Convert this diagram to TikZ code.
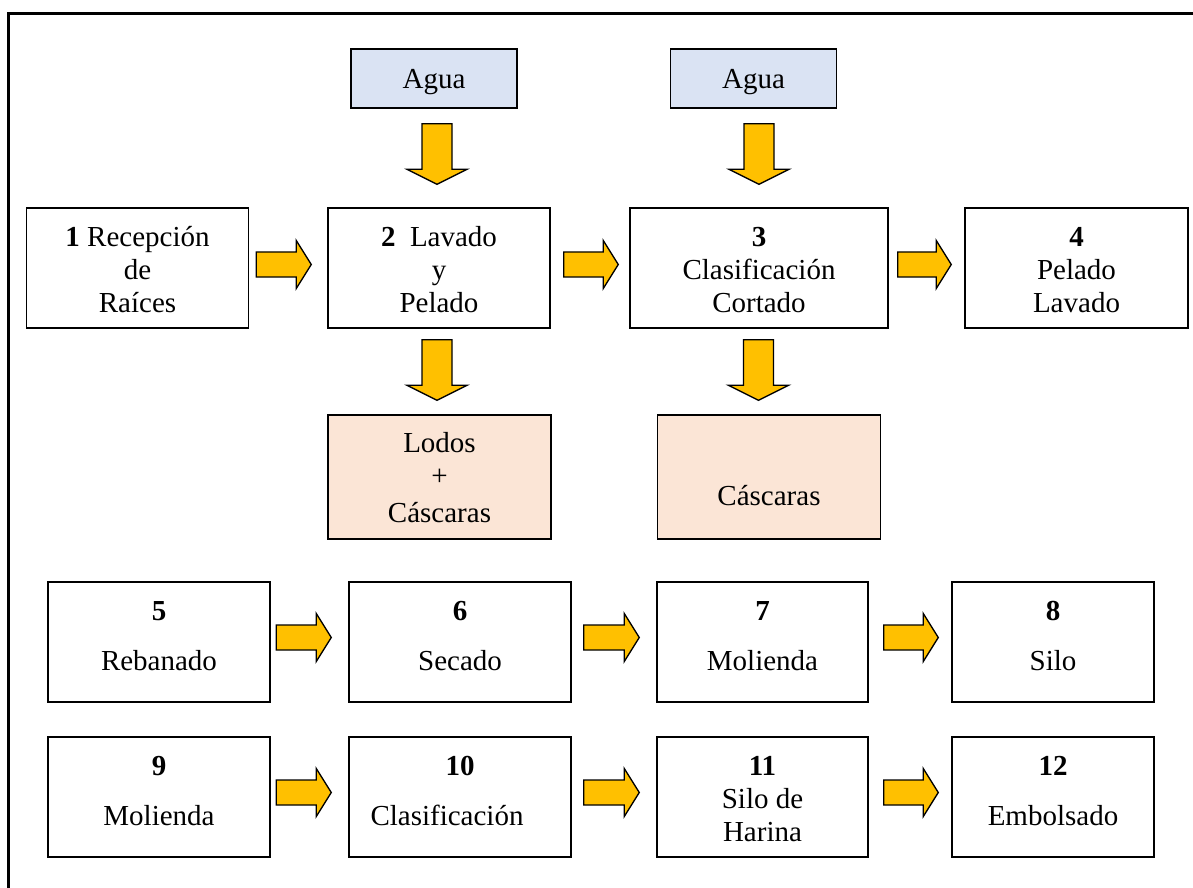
\documentclass[tikz,border=0pt]{standalone}
\usepackage{fontspec}
\setmainfont{Liberation Serif}
\usetikzlibrary{calc}

\definecolor{aguafill}{HTML}{DAE3F3}
\definecolor{residuofill}{HTML}{FBE5D6}
\definecolor{flechafill}{HTML}{FFC000}

\tikzset{
  proceso/.style={draw, line width=1.1pt, minimum width=166.5pt, minimum height=90pt, align=center, inner sep=0pt, font=\fontsize{21.75}{24.75}\selectfont},
  dos/.style={text depth=9pt},
  agua/.style={proceso, fill=aguafill, minimum width=124.5pt, minimum height=44.25pt, text depth=0pt},
  residuo/.style={proceso, fill=residuofill, minimum width=167pt, minimum height=93pt, text depth=-1.5pt},
  flechader/.style={draw, line width=1pt, fill=flechafill, to path={let \p1=(\tikztostart), \p2=(\tikztotarget) in
    (\x1,\y1+9.375pt) -- (\x2-11.25pt,\y1+9.375pt) -- (\x2-11.25pt,\y1+18pt) -- (\x2,\y1) -- (\x2-11.25pt,\y1-18pt) -- (\x2-11.25pt,\y1-9.375pt) -- (\x1,\y1-9.375pt) -- cycle}},
  flechaaba/.style={draw, line width=1pt, fill=flechafill, to path={let \p1=(\tikztostart), \p2=(\tikztotarget) in
    (\x1-11.25pt,\y1) -- (\x1-11.25pt,\y2+11.25pt) -- (\x1-22.5pt,\y2+11.25pt) -- (\x1,\y2) -- (\x1+22.5pt,\y2+11.25pt) -- (\x1+11.25pt,\y2+11.25pt) -- (\x1+11.25pt,\y1) -- cycle}}
}

\begin{document}
\begin{tikzpicture}[x=0.75pt,y=-0.75pt]
\useasboundingbox (0,0) rectangle (1193,888);

% marco
\draw[line width=2.5pt] (8.7,888) -- (8.7,13.7) -- (1193,13.7);

% fila 1
\node[proceso] (rec) at (137.5,268) {\strut\textbf{1} Recepción\\de\\Raíces};
\node[proceso] (lav) at (439,268) {\strut\textbf{2}\ \ Lavado\\y\\Pelado};
\node[proceso, minimum width=193.5pt] (cla) at (759,268) {\strut\textbf{3}\\Clasificación\\Cortado};
\node[proceso, minimum width=167.25pt] (pel) at (1076.5,268) {\strut\textbf{4}\\Pelado\\Lavado};

% entradas y residuos
\node[agua] (agua1) at (434,78.5) {Agua};
\node[agua] (agua2) at (753.5,78.5) {Agua};
\node[residuo] (lodos) at (439.5,477) {Lodos\\+\\[3pt]Cáscaras};
\node[residuo] (casc) at (769,477) {\strut\\Cáscaras};

% fila 2
\node[proceso, dos] (reb) at (159,642) {\textbf{5}\\[12.75pt]Rebanado};
\node[proceso, dos] (sec) at (460,642) {\textbf{6}\\[12.75pt]Secado};
\node[proceso, dos, minimum width=158.25pt] (mol) at (762.5,642) {\textbf{7}\\[12.75pt]Molienda};
\node[proceso, dos, minimum width=151.5pt] (sil) at (1053,642) {\textbf{8}\\[12.75pt]Silo};

% fila 3
\node[proceso, dos] (mol2) at (159,797) {\textbf{9}\\[12.75pt]Molienda};
\node[proceso, dos] (cla2) at (460,797) {\textbf{10}\\[12.75pt]Clasificación\hspace*{19.5pt}};
\node[proceso, minimum width=158.25pt] (har) at (762.5,797) {\strut\textbf{11}\\Silo de\\Harina};
\node[proceso, dos, minimum width=151.5pt] (emb) at (1053,797) {\textbf{12}\\[12.75pt]Embolsado};

% flechas
\draw[flechader] ($(rec.east)+(7,-3.5)$) to ($(lav.west)+(-16,-3.5)$);
\draw[flechader] ($(lav.east)+(13,-3.5)$) to ($(cla.west)+(-11,-3.5)$);
\draw[flechader] ($(cla.east)+(9,-3.5)$) to ($(pel.west)+(-13,-3.5)$);

\draw[flechader] ($(reb.east)+(5.5,-4.5)$) to ($(sec.west)+(-17,-4.5)$);
\draw[flechader] ($(sec.east)+(12,-4.5)$) to ($(mol.west)+(-17,-4.5)$);
\draw[flechader] ($(mol.east)+(15,-4.5)$) to ($(sil.west)+(-13,-4.5)$);

\draw[flechader] ($(mol2.east)+(5.5,-4.5)$) to ($(cla2.west)+(-17,-4.5)$);
\draw[flechader] ($(cla2.east)+(12,-4.5)$) to ($(har.west)+(-17,-4.5)$);
\draw[flechader] ($(har.east)+(15,-4.5)$) to ($(emb.west)+(-13,-4.5)$);

\draw[flechaaba] ($(agua1.south)+(3,15)$) to ($(lav.north)+(3,-23)$);
\draw[flechaaba] ($(agua2.south)+(5.5,15)$) to ($(cla.north)+(0,-23)$);
\draw[flechaaba] ($(lav.south)+(-2,11)$) to ($(lodos.north)+(-2,-14)$);
\draw[flechaaba] ($(cla.south)+(-0.5,11)$) to ($(casc.north)+(0,-14)$);

\end{tikzpicture}
\end{document}
